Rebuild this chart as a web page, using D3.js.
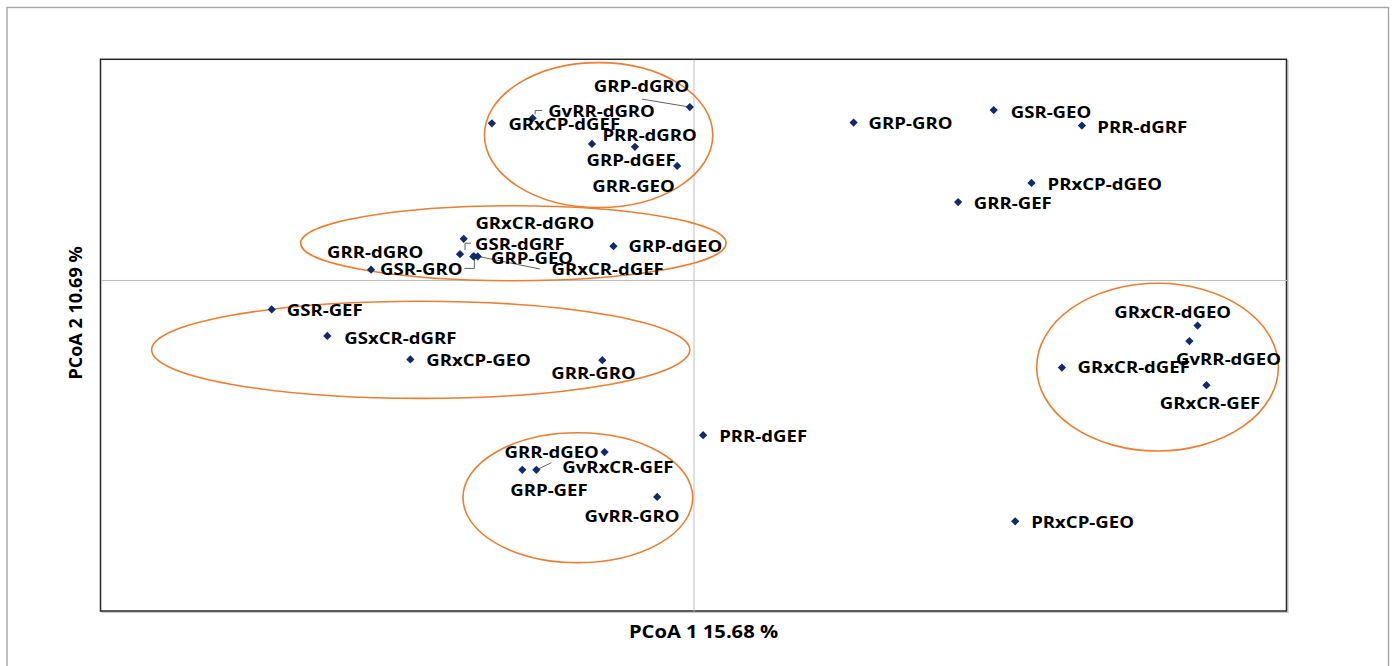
<!DOCTYPE html>
<html>
<head>
<meta charset="utf-8">
<script src="https://cdn.jsdelivr.net/npm/d3@7"></script>
<style>
  html, body { margin: 0; padding: 0; background: #ffffff; }
  svg { display: block; }
</style>
</head>
<body>
<script>
// PCoA ordination of samples (axis 1 = 15.68 %, axis 2 = 10.69 %)
const sampleNames = [
  "GRP-dGRO", "GvRR-dGRO", "GRxCP-dGEF", "PRR-dGRO", "GRP-dGEF", "GRR-GEO",
  "GRxCR-dGRO", "GSR-dGRF", "GRP-GEO", "GRxCR-dGEF", "GSR-GRO", "GRR-dGRO", "GRP-dGEO",
  "GSR-GEF", "GSxCR-dGRF", "GRxCP-GEO", "GRR-GRO",
  "GRR-dGEO", "GRP-GEF", "GvRxCR-GEF", "GvRR-GRO", "PRR-dGEF", "PRxCP-GEO",
  "GRxCR-dGEO", "GvRR-dGEO", "GRxCR-dGEF ", "GRxCR-GEF",
  "GRP-GRO", "GSR-GEO", "PRR-dGRF", "PRxCP-dGEO", "GRR-GEF"
];
const pcoa1 = [
  -0.005, -0.217, -0.272, -0.137, -0.079, -0.022,
  -0.310, -0.315, -0.296, -0.291, -0.297, -0.435, -0.108,
  -0.569, -0.494, -0.382, -0.123,
  -0.120, -0.231, -0.212, -0.049, 0.013, 0.434,
  0.680, 0.669, 0.497, 0.692,
  0.216, 0.405, 0.524, 0.456, 0.357
];
const pcoa2 = [
  0.235, 0.220, 0.213, 0.185, 0.181, 0.155,
  0.056, 0.035, 0.032, 0.032, 0.032, 0.014, 0.046,
  -0.040, -0.076, -0.108, -0.109,
  -0.234, -0.258, -0.258, -0.295, -0.211, -0.328,
  -0.062, -0.083, -0.119, -0.143,
  0.214, 0.231, 0.210, 0.132, 0.106
];

// Group ellipses, in ordination units
const ellipseCx = [-0.128, -0.243, -0.368, -0.156, 0.626];
const ellipseCy = [0.197, 0.050, -0.095, -0.296, -0.1185];
const ellipseRx = [0.154, 0.287, 0.363, 0.155, 0.163];
const ellipseRy = [0.0985, 0.051, 0.066, 0.0883, 0.114];

const xTitle = "PCoA 1 15.68 %";
const yTitle = "PCoA 2 10.69 %";

// Label placement (pixel offsets from the marker to the label's left/middle)
const labelOffset = [
  [-96, -21], [15.5, -6.7], [16.5, 1.3], [10.5, -9], [-48.5, 13.3], [-85, 20],
  [11.7, -15.3], [15, -10], [17, 1.5], [73.7, 12.8], [-93.3, 12.5], [-44, -17.6], [15, 0],
  [15, 1], [17, 2], [16, 1], [-51, 13],
  [-100, 0], [-12, 20], [26, -2.7], [-72.7, 19.3], [16, 1], [16, 1],
  [-83.3, -13.7], [-13.3, 18], [15.7, 0], [-46.7, 17.7],
  [15, 1], [17, 2], [15.4, 2], [16, 1.3], [15.7, 1]
];
// Leader lines, as point lists relative to the marker
const leaders = {
  0: [[-47.7, -8], [-3.3, -0.6]],
  1: [[2.5, -3.7], [2.5, -7.7], [9.5, -7.7]],
  7: [[5, -4], [5, -11], [11, -11]],
  10: [[-9, 12], [1, 12], [1, 3.5]],
  9: [[62, 12.5], [3, 0.5]],
  19: [[2.5, -1], [15, -7]]
};

const W = 1394, H = 666;
const plot = { left: 100.5, right: 1286.5, top: 59.3, bottom: 611 };
const textStretch = 1.14;

const svg = d3.select("body").append("svg")
  .attr("width", W).attr("height", H);

// outer frame
svg.append("rect")
  .attr("x", 7).attr("y", 7.5)
  .attr("width", 1381.5).attr("height", 720)
  .attr("fill", "none").attr("stroke", "#a6a6a6").attr("stroke-width", 1.4);

const x = d3.scaleLinear().domain([-0.8, 0.8]).range([plot.left, plot.right]);
const y = d3.scaleLinear().domain([-0.45, 0.3]).range([plot.bottom, plot.top]);

// plot area frame with a light shadow
svg.append("rect")
  .attr("x", plot.left + 1.5).attr("y", plot.top + 1.5)
  .attr("width", plot.right - plot.left).attr("height", plot.bottom - plot.top)
  .attr("fill", "none").attr("stroke", "#c8c8c8").attr("stroke-width", 1.2);
svg.append("rect")
  .attr("x", plot.left).attr("y", plot.top)
  .attr("width", plot.right - plot.left).attr("height", plot.bottom - plot.top)
  .attr("fill", "#ffffff").attr("stroke", "#262626").attr("stroke-width", 1.5);

// zero axes through the origin
const xAxis = svg.append("g")
  .attr("transform", `translate(0,${y(0)})`)
  .call(d3.axisBottom(x).tickValues([]).tickSizeOuter(0));
const yAxis = svg.append("g")
  .attr("transform", `translate(${x(0)},0)`)
  .call(d3.axisLeft(y).tickValues([]).tickSizeOuter(0));
[xAxis, yAxis].forEach(g => g.select(".domain")
  .attr("stroke", "#bfbfbf").attr("stroke-width", 1));

// group ellipses
svg.append("g").selectAll("ellipse")
  .data(ellipseCx.map((cx, i) => ({ cx, cy: ellipseCy[i], rx: ellipseRx[i], ry: ellipseRy[i] })))
  .join("ellipse")
  .attr("cx", d => x(d.cx))
  .attr("cy", d => y(d.cy))
  .attr("rx", d => x(d.rx) - x(0))
  .attr("ry", d => y(0) - y(d.ry))
  .attr("fill", "none")
  .attr("stroke", "#ed7d31")
  .attr("stroke-width", 1.6);

const points = sampleNames.map((name, i) => ({
  name: name.trim(), i, px: x(pcoa1[i]), py: y(pcoa2[i])
}));

// leader lines
const line = d3.line();
svg.append("g").selectAll("path")
  .data(points.filter(p => leaders[p.i]))
  .join("path")
  .attr("d", p => line(leaders[p.i].map(([dx, dy]) => [p.px + dx, p.py + dy])))
  .attr("fill", "none")
  .attr("stroke", "#505050")
  .attr("stroke-width", 0.9);

// markers
const diamond = d3.symbol(d3.symbolSquare, 34);
svg.append("g").selectAll("path")
  .data(points)
  .join("path")
  .attr("d", diamond)
  .attr("transform", p => `translate(${p.px},${p.py}) rotate(45)`)
  .attr("fill", "#0f2b6b");

// sample labels
svg.append("g").selectAll("text")
  .data(points)
  .join("text")
  .attr("transform", p => `translate(${p.px + labelOffset[p.i][0]},${p.py + labelOffset[p.i][1]}) scale(${textStretch},1)`)
  .attr("dy", "0.36em")
  .attr("font-family", "'Open Sans', sans-serif")
  .attr("font-weight", 700)
  .attr("font-size", 16.3)
  .attr("fill", "#000000")
  .text(p => p.name);

// axis titles
svg.append("text")
  .attr("transform", `translate(${(plot.left + plot.right) / 2 + 10},${632}) scale(1.12,1)`)
  .attr("dy", "0.36em")
  .attr("text-anchor", "middle")
  .attr("font-family", "'Open Sans', sans-serif")
  .attr("font-weight", 700)
  .attr("font-size", 18)
  .attr("fill", "#000000")
  .text(xTitle);

svg.append("text")
  .attr("transform", `translate(76,${313}) rotate(-90)`)
  .attr("dy", "0.36em")
  .attr("text-anchor", "middle")
  .attr("font-family", "'Open Sans', sans-serif")
  .attr("font-weight", 700)
  .attr("font-size", 18)
  .attr("fill", "#000000")
  .text(yTitle);
</script>
</body>
</html>
